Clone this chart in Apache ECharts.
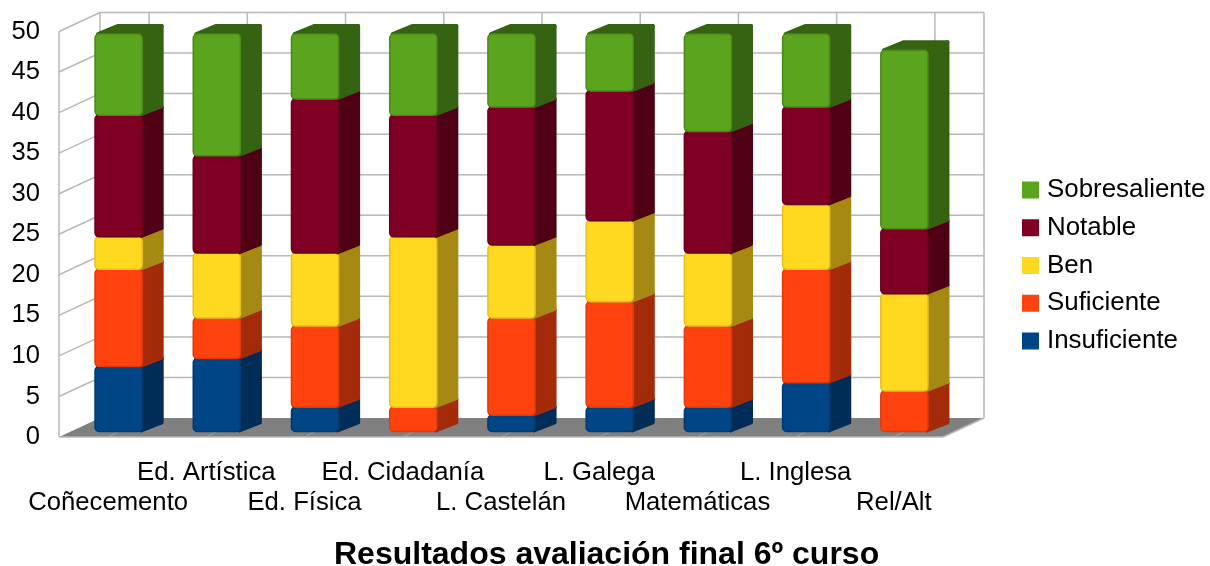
<!DOCTYPE html>
<html><head><meta charset="utf-8">
<script src="https://cdn.jsdelivr.net/npm/echarts@6/dist/echarts.min.js"></script>
<style>html,body{margin:0;padding:0;background:#fff}#c{width:1210px;height:566px}</style>
</head><body><div id="c"></div>
<script>
const categories = ['Coñecemento','Ed. Artística','Ed. Física','Ed. Cidadanía','L. Castelán','L. Galega','Matemáticas','L. Inglesa','Rel/Alt'];
const insuficiente  = [8,9,3,0,2,3,3,6,0];
const suficiente    = [12,5,10,3,12,13,10,14,5];
const ben           = [4,8,9,21,9,10,9,8,12];
const notable       = [15,12,19,15,17,16,15,12,8];
const sobresaliente = [10,15,8,10,9,7,12,9,22];
const bandNames  = ['Insuficiente','Suficiente','Ben','Notable','Sobresaliente'];
const bandColors = ['#004586','#ff420e','#ffd820','#800025','#5aa41e'];
const bandEdges  = ['#003a70','#e03a0c','#e8c01c','#6a001c','#4c8a18'];
const bandSides  = ['#002d58','#a32b09','#a68913','#4f0015','#366312'];
const yTicks = [0,5,10,15,20,25,30,35,40,45,50];
const wallDX = 41, wallDY = -19;
const barDX = 10.5, barDY = -5.5, barDepthX = 21.5, barDepthY = -10, barRatio = 0.48;
const FONT = '"Liberation Sans", Arial, sans-serif';
const bands = [insuficiente, suficiente, ben, notable, sobresaliente];
const LINE = '#b8b8b8';

function wallSeries(){
  return {
    type:'custom', name:'wall', silent:true, z:1, animation:false,
    data:[[0,0]], encode:{x:0,y:1},
    renderItem(params, api){
      const cs = params.coordSys, ch = [];
      const x0 = cs.x, x1 = cs.x + cs.width, yb = api.coord([0,0])[1], yt = api.coord([0,50])[1];
      ch.push({type:'polygon',shape:{points:[[x0,yb],[x1,yb],[x1+wallDX,yb+wallDY],[x0+wallDX,yb+wallDY]]},style:{fill:'#808080'}});
      yTicks.forEach(v=>{
        if (v===0) return;
        const y = api.coord([0,v])[1];
        ch.push({type:'polyline',shape:{points:[[x0,y],[x0+wallDX,y+wallDY],[x1+wallDX,y+wallDY]]},style:{stroke:LINE,lineWidth:1.5,fill:null}});
      });
      categories.forEach((c,i)=>{
        const x = api.coord([i,0])[0];
        ch.push({type:'line',shape:{x1:x+wallDX,y1:yb+wallDY,x2:x+wallDX,y2:yt+wallDY},style:{stroke:LINE,lineWidth:1.5}});
        ch.push({type:'line',shape:{x1:x,y1:yb,x2:x+10,y2:yb-5},style:{stroke:'#a0a0a0',lineWidth:1}});
      });
      ch.push({type:'line',shape:{x1:x0,y1:yb,x2:x0,y2:yt},style:{stroke:LINE,lineWidth:1.5}});
      ch.push({type:'line',shape:{x1:x0+wallDX,y1:yb+wallDY,x2:x0+wallDX,y2:yt+wallDY},style:{stroke:LINE,lineWidth:1.5}});
      ch.push({type:'line',shape:{x1:x1+wallDX,y1:yb+wallDY,x2:x1+wallDX,y2:yt+wallDY},style:{stroke:LINE,lineWidth:1.5}});
      ch.push({type:'line',shape:{x1:x0,y1:yb,x2:x1,y2:yb},style:{stroke:LINE,lineWidth:1.5}});
      ch.push({type:'line',shape:{x1:x1,y1:yb,x2:x1+wallDX,y2:yb+wallDY},style:{stroke:LINE,lineWidth:1.5}});
      return {type:'group',children:ch};
    }
  };
}

function bandSeries(k){
  const data = categories.map((c,i)=>{
    let base = 0;
    for (let j=0;j<k;j++) base += bands[j][i];
    return [i, base + bands[k][i], base];
  });
  return {
    type:'custom', name:bandNames[k], z:2, animation:false, silent:true,
    itemStyle:{color:bandColors[k]},
    encode:{x:0,y:[1,2]}, data,
    renderItem(params, api){
      const i = api.value(0), top = api.value(1), base = api.value(2);
      if (top === base) return null;
      const w = api.size([1,0])[0]*barRatio;
      const pt = api.coord([i,top]), pb = api.coord([i,base]);
      const l = pt[0]-w/2+barDX, r = l+w, t = pt[1]+barDY, b = pb[1]+barDY;
      const dx = barDepthX, dy = barDepthY;
      const sideStyle = {fill:bandSides[k],stroke:bandSides[k],lineWidth:4,lineJoin:'round'};
      return {type:'group',children:[
        {type:'polygon',shape:{points:[[l+3,t],[r,t],[r+dx-2,t+dy+2],[l+dx+1,t+dy+2]]},style:sideStyle},
        {type:'polygon',shape:{points:[[r-1,t],[r+dx-2,t+dy+2],[r+dx-2,b+dy+1],[r-1,b-1]]},style:sideStyle},
        {type:'rect',shape:{x:l,y:t,width:w,height:b-t,r:4},style:{fill:bandColors[k],stroke:bandEdges[k],lineWidth:1.5}}
      ]};
    }
  };
}

const chart = echarts.init(document.getElementById('c'),null,{renderer:'canvas'});
chart.setOption({
  animation:false,
  backgroundColor:'#fff',
  textStyle:{fontFamily:FONT},
  title:{text:'Resultados avaliación final 6º curso',left:329,top:534,
    textStyle:{fontFamily:FONT,fontSize:32,fontWeight:'bold',color:'#000'}},
  legend:{orient:'vertical',left:1017,top:172,icon:'rect',itemWidth:17,itemHeight:17,itemGap:11.75,
    data:bandNames.slice().reverse(),selectedMode:false,
    textStyle:{fontFamily:FONT,fontSize:25.9,color:'#000',padding:[0,0,0,3]}},
  grid:{left:59,top:31.5,width:884,height:405.5,containLabel:false},
  xAxis:{type:'category',data:categories,axisLine:{show:false},axisTick:{show:false},splitLine:{show:false},
    axisLabel:{interval:0,hideOverlap:false,margin:21,fontFamily:FONT,fontSize:25.7,color:'#000',lineHeight:30,
      formatter:(v,i)=> i%2===0 ? '\n'+v : v+'\n'}},
  yAxis:{type:'value',min:0,max:50,interval:5,axisLine:{show:false},axisTick:{show:false},splitLine:{show:false},
    axisLabel:{margin:19,fontFamily:FONT,fontSize:25.6,color:'#000',padding:[2,0,0,0]}},
  series:[wallSeries()].concat(bands.map((b,k)=>bandSeries(k)))
});
</script></body></html>
